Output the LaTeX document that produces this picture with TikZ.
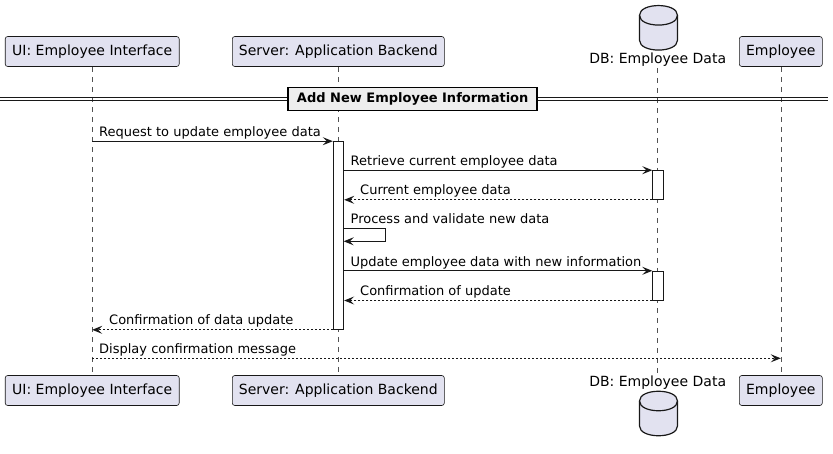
\documentclass[tikz,border=0pt]{standalone}
\usepackage{fontspec}
\setmainfont{DejaVu Sans}
\usetikzlibrary{arrows.meta}
\definecolor{pfill}{HTML}{E2E2F0}
\definecolor{pline}{HTML}{181818}
\definecolor{sepfill}{HTML}{EEEEEE}
\begin{document}
\begin{tikzpicture}[x=1pt,y=-1pt,
  part/.style={draw=pline, fill=pfill, rounded corners=2.5pt, line width=0.6pt, inner sep=0pt, minimum height=30pt, font=\fontsize{14}{16}\selectfont},
  plain/.style={inner sep=1pt, font=\fontsize{14}{16}\selectfont},
  lbl/.style={font=\fontsize{13}{15}\selectfont, inner sep=0pt, anchor=base west},
  life/.style={draw=pline!75, line width=0.5pt, dash pattern=on 5pt off 5pt},
  actbar/.style={draw=pline, fill=white, line width=1pt, minimum width=10.4pt, inner sep=0pt},
  msg/.style={draw=pline, line width=1pt, -{Stealth[length=10pt,width=8pt,inset=4pt]}},
  ret/.style={msg, dash pattern=on 2pt off 2pt},
  cyl/.style={draw=pline, fill=pfill, line width=1.2pt},
]
\useasboundingbox (0,0) rectangle (833,453);

% participants top
\node[part, minimum width=174pt] (uiT) at (92.2,51.5) {UI: Employee Interface};
\node[part, minimum width=212pt] (srvT) at (338.3,51.5) {Server: Application Backend};
\node[part, minimum width=83pt] (empT) at (780.8,51.5) {Employee};
\node[plain] (dbT) at (657.7,60) {DB: Employee Data};
% participants bottom
\node[part, minimum width=174pt] (uiB) at (92.2,390.5) {UI: Employee Interface};
\node[part, minimum width=212pt] (srvB) at (338.3,390.5) {Server: Application Backend};
\node[part, minimum width=83pt] (empB) at (780.8,390.5) {Employee};
\node[plain] (dbB) at (657.7,383) {DB: Employee Data};

% database cylinders
\draw[cyl] (639.5,15.3) .. controls (639.5,2.3) and (677.5,2.3) .. (677.5,15.3) -- (677.5,40.3) .. controls (677.5,53.3) and (639.5,53.3) .. (639.5,40.3) -- cycle;
\draw[pline, line width=1.2pt] (639.5,15.3) .. controls (639.5,28.3) and (677.5,28.3) .. (677.5,15.3);
\draw[cyl] (639.5,401) .. controls (639.5,388) and (677.5,388) .. (677.5,401) -- (677.5,426) .. controls (677.5,439) and (639.5,439) .. (639.5,426) -- cycle;
\draw[pline, line width=1.2pt] (639.5,401) .. controls (639.5,414) and (677.5,414) .. (677.5,401);

% lifelines
\draw[life] (uiT.south) -- (uiB.north);
\draw[life] (srvT.south) -- (srvB.north);
\draw[life] (dbT.south) -- (dbB.north);
\draw[life] (empT.south) -- (empB.north);

% separator
\draw[pline, line width=1pt] (0,97) -- (828,97) (0,100) -- (828,100);
\node[draw=black, fill=sepfill, line width=1.5pt, minimum width=249pt, minimum height=23.4pt, inner sep=0pt, font=\fontsize{13}{15}\selectfont\bfseries] (sep) at (412.7,99) {Add New Employee Information};

% activation bars
\node[actbar, minimum height=187.6pt] (aS) at (338.5,235.5) {};
\node[actbar, minimum height=28.6pt] (aD1) at (658,185) {};
\node[actbar, minimum height=28.7pt] (aD2) at (658,285.65) {};

% messages
\draw[msg] (uiT |- aS.north west) -- (aS.north west);
\node[lbl] (l1) at (99,136.7) {Request to update employee data};

\draw[msg] (aS.east |- aD1.north west) -- (aD1.north west);
\node[lbl] (l2) at (350.5,165.7) {Retrieve current employee data};

\draw[ret] (aD1.south west) -- (aS.east |- aD1.south west);
\node[lbl] (l3) at (360,194.3) {Current employee data};

\coordinate (s1) at (343.7,228.3);
\draw[msg] (s1) -- ++(42,0) -- ++(0,13) -- ++(-42,0);
\node[lbl] (l4) at (350.5,223.3) {Process and validate new data};

\draw[msg] (aS.east |- aD2.north west) -- (aD2.north west);
\node[lbl] (l5) at (350.5,266.3) {Update employee data with new information};

\draw[ret] (aD2.south west) -- (aS.east |- aD2.south west);
\node[lbl] (l6) at (360,295) {Confirmation of update};

\draw[ret] (aS.south west) -- (uiT |- aS.south west);
\node[lbl] (l7) at (109,324.3) {Confirmation of data update};

\coordinate (m8) at (0,358.3);
\draw[ret] (uiT |- m8) -- (empT |- m8);
\node[lbl] (l8) at (99,353.3) {Display confirmation message};
\end{tikzpicture}
\end{document}
